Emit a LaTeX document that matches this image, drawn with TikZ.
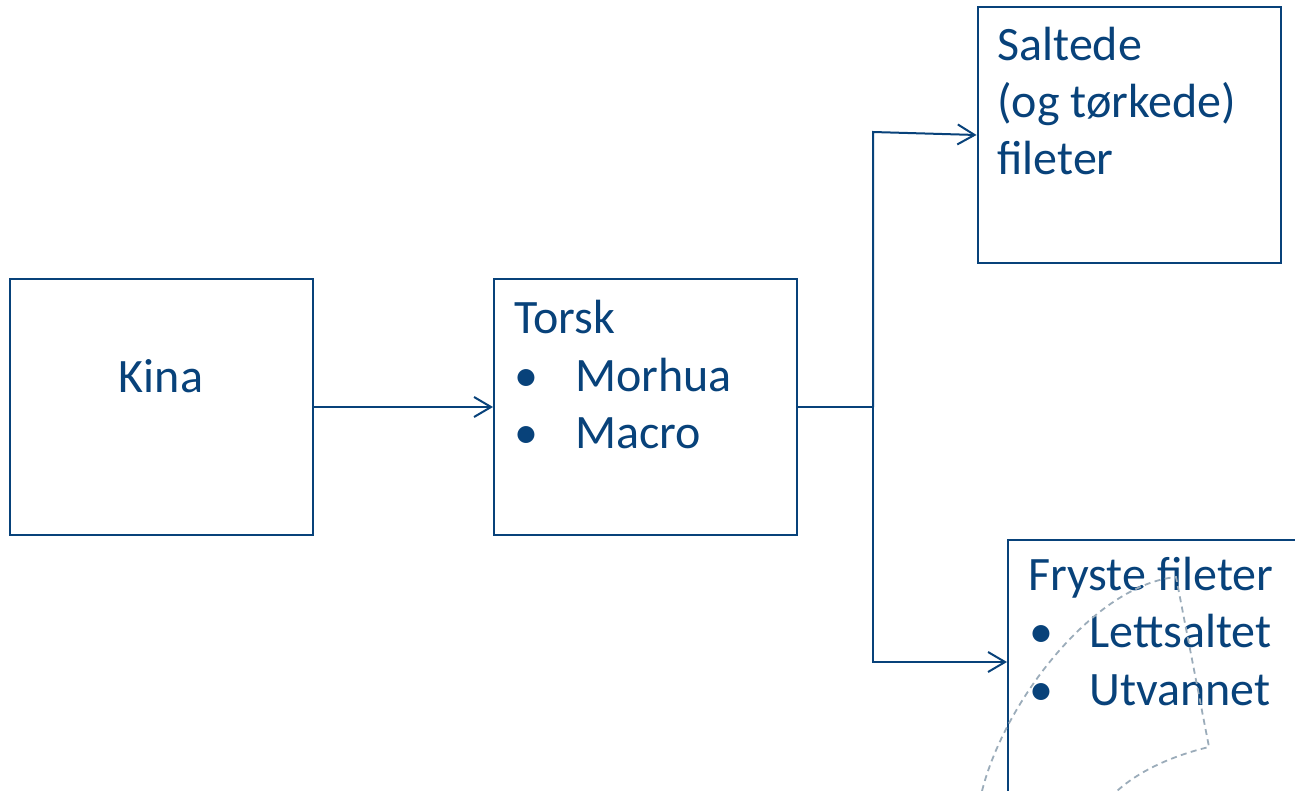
\documentclass[tikz,border=0pt]{standalone}
\usepackage{fontspec}
\setmainfont{Carlito}
\usetikzlibrary{arrows.meta}
\definecolor{ink}{RGB}{8,66,122}
\definecolor{ghost}{RGB}{155,172,186}
\tikzset{
  box/.style={draw=ink, line width=1pt, minimum width=151.5pt, minimum height=128pt, inner sep=0pt},
  txt/.style={text=ink, font=\fontsize{24pt}{29pt}\selectfont, inner sep=0pt, anchor=base west},
  conn/.style={draw=ink, line width=1pt},
  arr/.style={conn, -{Straight Barb[length=8.5pt,width=10pt,line width=1pt]}},
  deco/.style={draw=ghost, line width=0.9pt, dash pattern=on 3pt off 2.2pt}
}
\begin{document}
\begin{tikzpicture}[x=0.5pt,y=-0.5pt]
\useasboundingbox (0,0) rectangle (1295,791);
\clip (0,0) rectangle (1295,791);
% boxes
\node[box] (kina) at (161.5,407) {};
\node[box] (torsk) at (645.5,407) {};
\node[box] (saltede) at (1129,135) {};
\node[box] (fryste) at (1159.5,668) {};
% texts
\node[txt, anchor=base] (tkina) at (161,392) {Kina};
\node[txt] (ttorsk) at (514,333) {Torsk};
\node[txt] (b1) at (514,391) {•};
\node[txt] (tmorhua) at (575,391) {Morhua};
\node[txt] (b2) at (514,448) {•};
\node[txt] (tmacro) at (575,448) {Macro};
\node[txt] (ts1) at (997,61) {Saltede};
\node[txt] (ts2) at (997,118) {(og tørkede)};
\node[txt] (ts3) at (997,175) {fileter};
\node[txt] (tf1) at (1028,590) {Fryste fileter};
\node[txt] (b3) at (1029,647) {•};
\node[txt] (tf2) at (1089,647) {Lettsaltet};
\node[txt] (b4) at (1029,705) {•};
\node[txt] (tf3) at (1089,705) {Utvannet};
% connectors
\coordinate (j) at (873,407);
\coordinate (jt) at (873,132);
\coordinate (jb) at (873,662);
\draw[arr] (kina.east) -- (torsk.west);
\draw[conn] (torsk.east) -- (j);
\draw[arr] (j) -- (jt) -- (saltede.west);
\draw[arr] (j) -- (jb) -- (fryste.west |- jb);
% decorative dashed outline
\draw[deco] (982,791) .. controls (1005,700) and (1095,585) .. (1176,577)
  -- (1209,747) .. controls (1175,755) and (1140,770) .. (1117,791);
\end{tikzpicture}
\end{document}
